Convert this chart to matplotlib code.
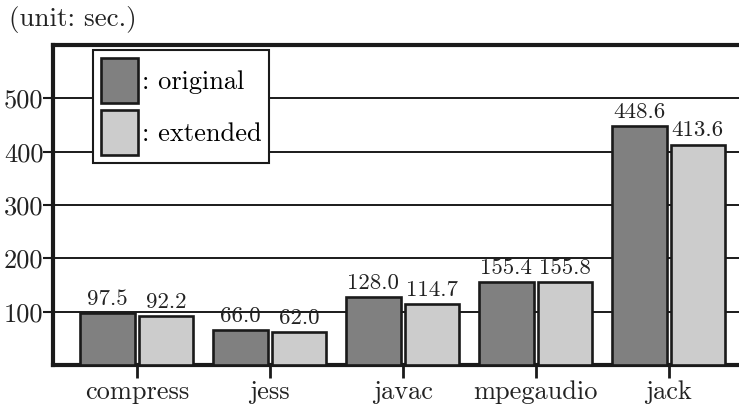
import numpy as np
import matplotlib
matplotlib.use("Agg")
import matplotlib.pyplot as plt

plt.rcParams['font.family'] = ['cmr10', 'DejaVu Serif']
plt.rcParams['axes.formatter.use_mathtext'] = True

benchmarks = ["compress", "jess", "javac", "mpegaudio", "jack"]
original = [97.5, 66.0, 128.0, 155.4, 448.6]
extended = [92.2, 62.0, 114.7, 155.8, 413.6]
yticks = [100, 200, 300, 400, 500]

fig = plt.figure(figsize=(7.39, 4.07), dpi=100)
ax = fig.add_axes([0.0717, 0.103, 0.932, 0.786])

x = np.arange(len(benchmarks))
w = 0.41
gap = 0.015
b1 = ax.bar(x - w/2 - gap, original, w, color="#808080", edgecolor="#1a1a1a",
            linewidth=1.9, zorder=3, label=": original")
b2 = ax.bar(x + w/2 + gap, extended, w, color="#cccccc", edgecolor="#1a1a1a",
            linewidth=1.9, zorder=3, label=": extended")

for bars, vals in [(b1, original), (b2, extended)]:
    for r, v in zip(bars, vals):
        ax.annotate("%.1f" % v, (r.get_x() + r.get_width()/2, v),
                    xytext=(0, 3), textcoords="offset points",
                    ha="center", va="bottom", fontsize=16.5, color="#222222", zorder=4)

ax.set_xlim(-0.63, 4.55)
ax.set_ylim(0, 600)
ax.set_yticks(yticks)
ax.set_yticklabels([str(t) for t in yticks], fontsize=19, color="#222222")
ax.set_xticks(x)
ax.set_xticklabels(benchmarks, fontsize=19, color="#222222")
ax.yaxis.grid(True, color="#1a1a1a", linewidth=1.4, zorder=0)
ax.set_axisbelow(True)
ax.tick_params(axis="y", direction="out", length=7, width=1.5, pad=0, colors="#1a1a1a")
ax.tick_params(axis="x", direction="out", length=9, width=2, pad=2, colors="#1a1a1a")
for t in ax.get_xticklabels() + ax.get_yticklabels():
    t.set_color("#222222")
for s in ax.spines.values():
    s.set_linewidth(3)
    s.set_color("#1a1a1a")

leg = ax.legend(loc="upper left", bbox_to_anchor=(0.058, 0.985), borderaxespad=0,
                fontsize=19, handlelength=1.4, handleheight=2.25, handletextpad=0.15,
                labelspacing=0.27, borderpad=0.3, fancybox=False, framealpha=1,
                edgecolor="#1a1a1a")
leg.get_frame().set_linewidth(1.5)
leg.set_zorder(5)

fig.text(0.012, 0.951, "(unit: sec.)", fontsize=19.5, color="#222222", va="center")

fig.savefig("out.png", dpi=100)
